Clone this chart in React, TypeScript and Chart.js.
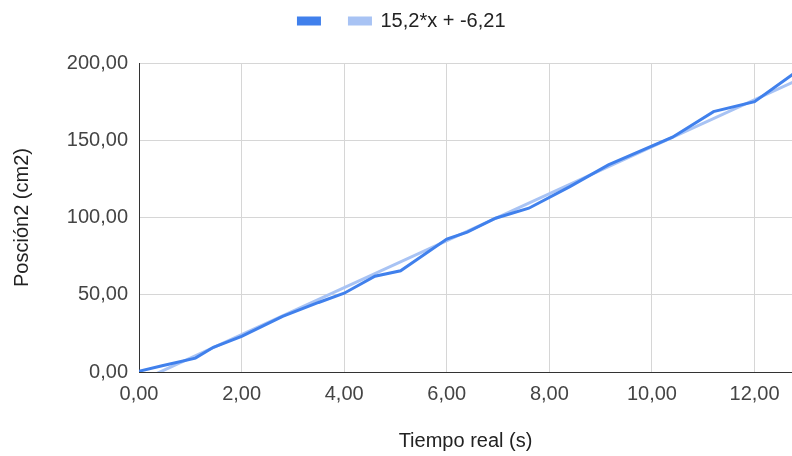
import React, { useEffect, useRef } from "react";
import { Chart, registerables } from "chart.js";

Chart.register(...registerables);

const timeValues = [0, 0.45, 1.1, 1.45, 2.0, 2.8, 3.5, 4.0, 4.6, 5.1, 6.0, 6.4, 6.95, 7.6, 8.4, 9.15, 10.4, 11.2, 12.0, 12.8];
const positionValues = [0.5, 4, 9, 16, 23, 36, 45, 51, 62, 65.5, 86, 90.5, 99.5, 106, 120, 134, 152, 168.5, 175, 194];
const trendX = [0, 12.8];
const trendY = [-6.21, 188.35];
const seriesLabel = "\u2002";
const trendLabel = "15,2*x + -6,21";
const xTitle = "Tiempo real (s)";
const yTitle = "Posción2 (cm2)";

const FONT = "'Liberation Sans', Arial, sans-serif";
const fmt = (v: number | string) => Number(v).toFixed(2).replace(".", ",");

export default function App() {
  const ref = useRef<HTMLCanvasElement>(null);
  useEffect(() => {
    if (!ref.current) return;
    const legendTweak = {
      id: "legendTweak",
      beforeLayout(chart: any) {
        const l = chart.legend;
        if (l && !l.__patched) {
          const fit = l.fit;
          l.fit = function () {
            fit.call(this);
            this.height = 63;
          };
          const draw = l.draw;
          l.draw = function (...args: any[]) {
            const ctx = this.ctx;
            ctx.save();
            ctx.translate(6, 1);
            draw.apply(this, args);
            ctx.restore();
          };
          l.__patched = true;
        }
      },
    };
    const chart = new Chart(ref.current, {
      type: "line",
      data: {
        datasets: [
          {
            label: seriesLabel,
            data: timeValues.map((x, i) => ({ x, y: positionValues[i] })),
            borderColor: "#4080ec",
            backgroundColor: "#4080ec",
            borderWidth: 3,
            pointRadius: 0,
            tension: 0,
          },
          {
            label: trendLabel,
            data: trendX.map((x, i) => ({ x, y: trendY[i] })),
            borderColor: "#a8c3f4",
            backgroundColor: "#a8c3f4",
            borderWidth: 3,
            pointRadius: 0,
            tension: 0,
          },
        ],
      },
      options: {
        animation: false,
        responsive: false,
        maintainAspectRatio: false,
        layout: { padding: 0 },
        plugins: {
          tooltip: { enabled: false },
          legend: {
            display: true,
            position: "top",
            labels: {
              boxWidth: 21,
              boxHeight: 6,
              padding: 10,
              color: "#222",
              font: { family: FONT, size: 20 },
            },
          },
        },
        scales: {
          x: {
            type: "linear",
            min: 0,
            max: 12.73,
            afterFit(scale: any) {
              scale.height = 84;
            },
            ticks: {
              stepSize: 2,
              includeBounds: false,
              color: "#444",
              padding: 10,
              maxRotation: 0,
              font: { family: FONT, size: 20 },
              callback: (v: any) => fmt(v),
            },
            grid: { color: "#d6d6d6", lineWidth: 1, drawTicks: false },
            border: { color: "#333", width: 1 },
            title: {
              display: true,
              text: xTitle,
              color: "#222",
              font: { family: FONT, size: 20 },
              padding: { top: 0, bottom: 3 },
            },
          },
          y: {
            type: "linear",
            min: 0,
            max: 200,
            afterFit(scale: any) {
              scale.width = 139;
            },
            ticks: {
              stepSize: 50,
              color: "#444",
              padding: 11,
              font: { family: FONT, size: 20 },
              callback: (v: any) => fmt(v),
            },
            grid: { color: "#d6d6d6", lineWidth: 1, drawTicks: false },
            border: { color: "#333", width: 1 },
            title: {
              display: true,
              text: yTitle,
              color: "#222",
              font: { family: FONT, size: 20 },
              padding: { top: 10, bottom: 0 },
            },
          },
        },
      },
      plugins: [legendTweak],
    });
    return () => chart.destroy();
  }, []);
  return (
    <div style={{ position: "absolute", left: 0, top: 0, width: 792, height: 456, background: "#fff" }}>
      <canvas ref={ref} width={792} height={456} style={{ display: "block", width: 792, height: 456 }} />
    </div>
  );
}
